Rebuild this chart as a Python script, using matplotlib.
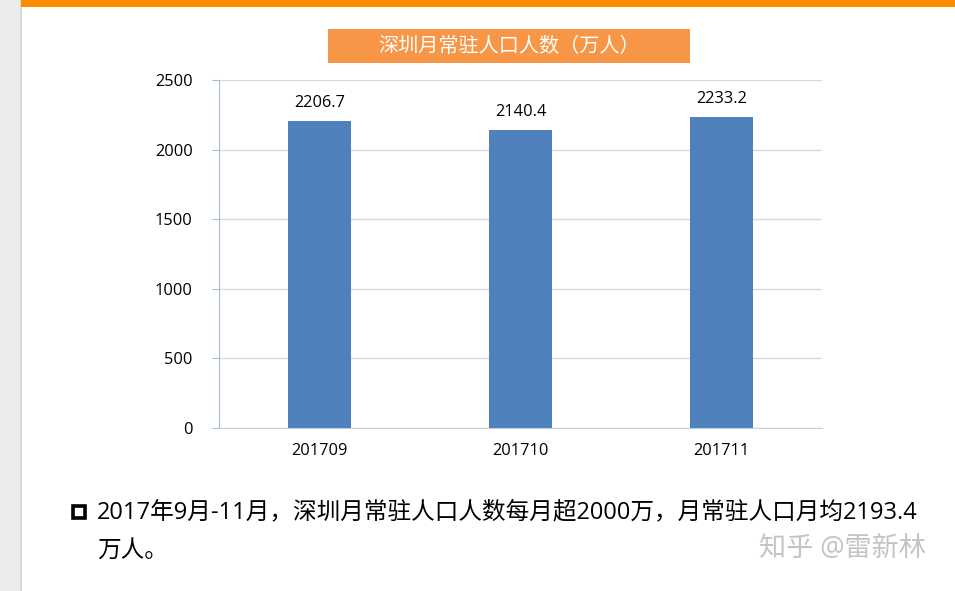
import matplotlib
matplotlib.use('Agg')
import matplotlib.pyplot as plt
from matplotlib.patches import Rectangle

plt.rcParams['font.family'] = ['Open Sans', 'Noto Sans CJK SC', 'DejaVu Sans']

months = ['201709', '201710', '201711']
population = [2206.7, 2140.4, 2233.2]
yticks = [0, 500, 1000, 1500, 2000, 2500]
title = '深圳月常驻人口人数（万人）'
note_line1 = '2017年9月-11月，深圳月常驻人口人数每月超2000万，月常驻人口月均2193.4'
note_line2 = '万人。'
watermark = '知乎 @雷新林'

W, H = 955, 591
fig = plt.figure(figsize=(W / 100, H / 100), dpi=100)
fig.patch.set_facecolor('white')

# page decorations
fig.patches.append(Rectangle((0, 0), 20 / W, 1, transform=fig.transFigure,
                             facecolor='#ececec', edgecolor='none', zorder=0))
fig.patches.append(Rectangle((20 / W, 0), 1.5 / W, 1, transform=fig.transFigure,
                             facecolor='#d8d8d8', edgecolor='none', zorder=0))
fig.patches.append(Rectangle((21 / W, 1 - 7 / H), 1, 7 / H, transform=fig.transFigure,
                             facecolor='#fb8c00', edgecolor='none', zorder=0))
fig.patches.append(Rectangle((328 / W, 1 - 63 / H), 362 / W, 34 / H, transform=fig.transFigure,
                             facecolor='#f79646', edgecolor='none', zorder=1))
fig.text(509 / W, 1 - 46.5 / H, title, color='white', fontsize=14.5,
         ha='center', va='center')

ax = fig.add_axes([219 / W, 163 / H, 603 / W, 348 / H])
x = range(len(months))
bars = ax.bar(x, population, width=0.315, color='#4f81bd', zorder=3)
for b, v in zip(bars, population):
    ax.text(b.get_x() + b.get_width() / 2, v + 70, f'{v:.1f}',
            ha='center', va='bottom', fontsize=11.8, color='black')

ax.set_xlim(-0.5, len(months) - 0.5)
ax.set_ylim(0, 2500)
ax.set_yticks(yticks)
ax.set_xticks(list(x))
ax.set_xticklabels(months)
ax.yaxis.grid(True, color='#d9d9d9', linewidth=1, zorder=0)
ax.set_axisbelow(True)
for s in ['top', 'right']:
    ax.spines[s].set_visible(False)
ax.spines['left'].set_color('#a9bcd6')
ax.spines['bottom'].set_color('#c6d2e2')
ax.tick_params(axis='y', length=5, color='#a9bcd6', pad=14, labelsize=11.8)
ax.tick_params(axis='x', length=0, pad=11, labelsize=11.8)

# note below the chart
fig.patches.append(Rectangle((73 / W, 1 - 518 / H), 12 / W, 12 / H, transform=fig.transFigure,
                             facecolor='none', edgecolor='black', linewidth=2.6, zorder=2))
fig.text(97 / W, 1 - 512 / H, note_line1, fontsize=17, ha='left', va='center')
fig.text(97 / W, 1 - 551 / H, note_line2, fontsize=17, ha='left', va='center')
fig.text(842 / W, 1 - 550 / H, watermark, fontsize=19.5, color='#c4c4c4',
         ha='center', va='center')

fig.savefig('out.png', dpi=100)
